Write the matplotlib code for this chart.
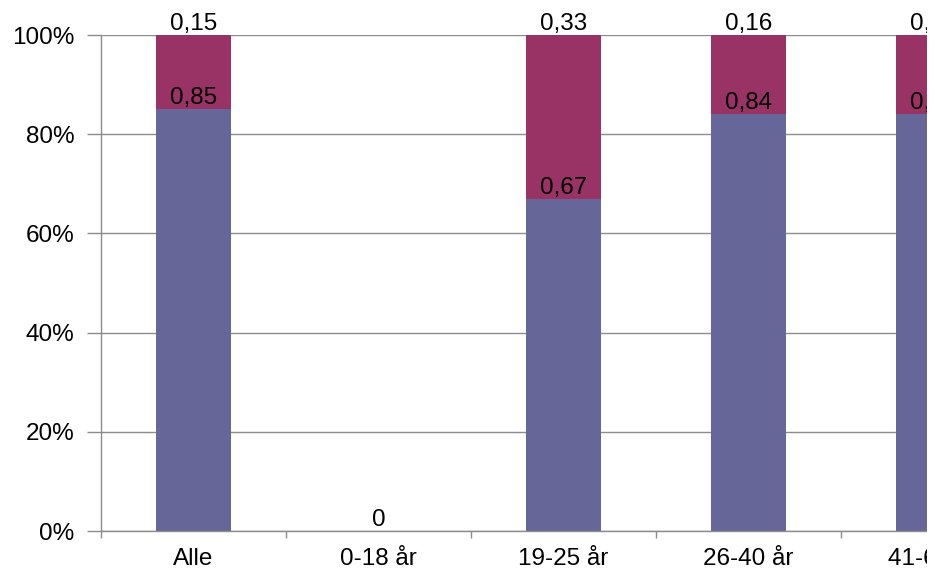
import numpy as np
import matplotlib.pyplot as plt
from matplotlib.patches import Rectangle
from matplotlib.ticker import FuncFormatter

categories = ['Alle', '0-18 år', '19-25 år', '26-40 år', '41-65 år']
share_a = [0.85, 0.0, 0.67, 0.84, 0.84]
share_b = [0.15, 0.0, 0.33, 0.16, 0.16]

plt.rcParams['font.family'] = ['Liberation Sans', 'DejaVu Sans']

def fmt(v):
    if v == 0:
        return '0'
    return ('%.2f' % v).replace('.', ',')

def main():
    fig = plt.figure(figsize=(9.37, 5.76), dpi=100)
    # the original picture is cropped on the right, so the axes run past the edge
    ax = fig.add_axes([101 / 937, 45 / 576, 925 / 937, 496 / 576])

    x = np.arange(len(categories))
    a = np.array(share_a)
    b = np.array(share_b)
    ax.bar(x, a, width=0.405, color='#666699', zorder=2)
    ax.bar(x, b, width=0.405, bottom=a, color='#993366', zorder=2)

    for i in range(len(x)):
        ax.text(x[i], a[i], fmt(a[i]), ha='center', va='bottom', fontsize=17.5, zorder=3)
        if b[i] > 0:
            ax.text(x[i], a[i] + b[i], fmt(b[i]), ha='center', va='bottom',
                    fontsize=17.5, zorder=3, clip_on=False)

    ax.set_xlim(-0.5, len(categories) - 0.5)
    ax.set_ylim(0, 1)
    ax.set_yticks(np.arange(0, 1.01, 0.2))
    ax.yaxis.set_major_formatter(FuncFormatter(lambda v, p: '%d%%' % round(v * 100)))
    ax.set_xticks(x)
    ax.set_xticklabels(categories)
    ax.set_xticks(np.arange(-0.5, len(categories), 1), minor=True)
    ax.tick_params(axis='x', which='major', length=0, labelsize=17.5, pad=12)
    ax.tick_params(axis='x', which='minor', length=5, width=1, color='#8c8c8c', direction='out')
    ax.tick_params(axis='y', length=10, width=1, color='#8c8c8c', labelsize=17.5, pad=9)

    ax.grid(axis='y', color='#8c8c8c', linewidth=1, zorder=0)
    for s in ['top', 'right']:
        ax.spines[s].set_visible(False)
    for s in ['left', 'bottom']:
        ax.spines[s].set_color('#8c8c8c')
        ax.spines[s].set_linewidth(1)

    # white strip on the right edge where the source image was cut
    fig.patches.append(Rectangle((927 / 937, 0), 10 / 937, 1, transform=fig.transFigure,
                                 facecolor='white', edgecolor='none', zorder=10))

    fig.savefig('out.png', dpi=100)

if __name__ == "__main__":
    main()
